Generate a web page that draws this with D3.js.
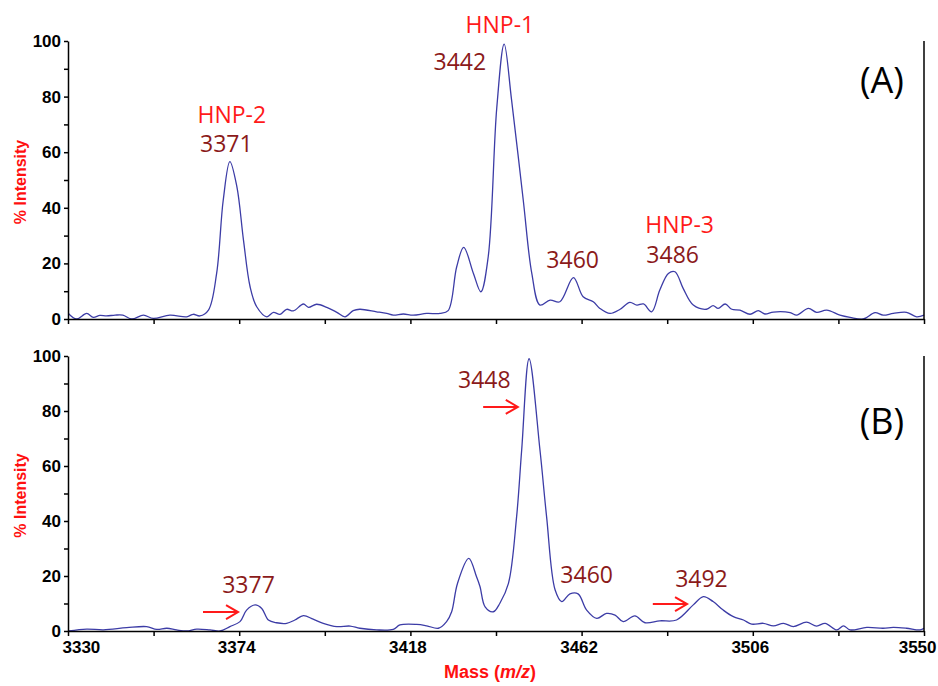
<!DOCTYPE html>
<html>
<head>
<meta charset="utf-8">
<script src="https://cdn.jsdelivr.net/npm/d3@7/dist/d3.min.js"></script>
<style>
body { margin: 0; background: #fff; }
svg text { font-family: "Liberation Sans", Arial, sans-serif; }
.axis .tick text { font-weight: bold; font-size: 17px; fill: #000; }
.axis path, .axis line { stroke: #000; stroke-width: 1.5; }
.peak-label { font-family: "Open Sans", sans-serif !important; font-size: 23px; }
</style>
</head>
<body>
<div id="chart"></div>
<script>
(function() {
"use strict";

var massA = [3330.1, 3332.2, 3334.8, 3336.5, 3338.2, 3339.9, 3342.1, 3344.1, 3346.4, 3349.4,
    3351.9, 3356.2, 3360.5, 3362.2, 3363.9, 3366.1, 3368.2, 3369.9, 3371.6, 3373.4,
    3375.1, 3376.8, 3378.5, 3381.1, 3382.8, 3384.5, 3386.2, 3387.9, 3390.5, 3391.8,
    3393.9, 3396.5, 3399.1, 3401.2, 3403.3, 3405.0, 3409.3, 3411.9, 3413.6, 3416.2,
    3418.7, 3422.2, 3425.6, 3427.7, 3429.9, 3431.7, 3434.2, 3436.1, 3438.0, 3440.2,
    3442.1, 3444.0, 3447.0, 3449.2, 3451.3, 3453.9, 3456.4, 3459.9, 3462.4, 3465.0,
    3466.7, 3469.3, 3471.9, 3474.4, 3476.2, 3477.9, 3480.0, 3482.1, 3484.3, 3486.0,
    3488.1, 3490.7, 3494.1, 3495.8, 3497.1, 3498.9, 3500.6, 3502.7, 3505.3, 3507.4,
    3509.1, 3511.3, 3515.6, 3517.3, 3520.3, 3522.4, 3525.0, 3528.4, 3531.0, 3534.4,
    3537.4, 3539.5, 3542.1, 3545.5, 3548.1, 3550.0];
var intensityA = [2.0, 0.0, 2.0, 0.6, 1.3, 1.1, 1.4, 1.4, 0.0, 1.4,
    0.2, 1.4, 0.8, 1.7, 1.1, 3.2, 16.4, 42.8, 56.6, 47.6,
    28.4, 11.6, 4.4, 0.8, 2.4, 1.7, 3.5, 2.9, 5.4, 4.2,
    5.3, 4.2, 2.4, 0.8, 3.0, 3.5, 2.6, 2.0, 1.4, 1.8,
    1.4, 2.0, 2.0, 3.0, 18.8, 25.8, 16.4, 9.8, 22.4, 76.0,
    98.9, 78.8, 42.8, 16.4, 5.0, 6.8, 6.2, 14.9, 8.0, 6.2,
    3.8, 2.0, 3.5, 6.0, 5.0, 5.4, 2.6, 10.4, 16.4, 17.0,
    11.0, 5.0, 3.5, 4.8, 3.8, 5.4, 3.5, 3.2, 1.7, 3.0,
    1.8, 2.5, 2.3, 1.4, 3.8, 2.4, 3.2, 1.4, 0.6, 0.0,
    2.3, 1.4, 2.0, 2.4, 0.8, 1.4];

var massB = [3330.1, 3334.8, 3339.1, 3345.1, 3350.2, 3352.8, 3355.4, 3357.9, 3360.5, 3363.1,
    3366.5, 3369.1, 3371.6, 3374.2, 3375.9, 3378.1, 3379.8, 3381.5, 3383.6, 3386.2,
    3388.3, 3390.5, 3393.0, 3395.6, 3399.1, 3402.5, 3405.0, 3409.3, 3413.6, 3415.3,
    3419.6, 3422.2, 3425.2, 3427.3, 3428.6, 3430.1, 3433.0, 3435.0, 3435.9, 3437.2,
    3439.3, 3441.0, 3443.2, 3445.3, 3446.6, 3448.5, 3451.3, 3453.0, 3455.2, 3456.9,
    3459.0, 3461.1, 3463.3, 3465.9, 3468.4, 3470.6, 3472.7, 3475.7, 3478.3, 3482.1,
    3486.4, 3490.7, 3493.3, 3495.8, 3498.4, 3501.0, 3503.6, 3505.7, 3508.7, 3511.3,
    3513.9, 3516.4, 3519.8, 3522.4, 3524.6, 3527.6, 3529.3, 3531.0, 3535.3, 3539.5,
    3542.1, 3545.5, 3549.0, 3550.0];
var intensityB = [0.0, 0.7, 0.4, 1.2, 1.6, 0.6, 1.0, 0.4, 0.0, 0.7,
    0.4, 0.0, 1.6, 3.4, 7.6, 9.5, 8.2, 4.0, 3.0, 2.8,
    4.0, 5.6, 4.3, 2.8, 1.6, 1.8, 1.0, 0.4, 0.6, 2.2,
    2.4, 1.9, 1.0, 3.4, 7.0, 17.3, 26.4, 19.7, 16.1, 8.8,
    7.0, 10.1, 17.3, 41.6, 65.8, 99.0, 65.8, 41.6, 14.9, 10.7,
    13.5, 13.5, 7.6, 4.6, 6.4, 5.8, 3.4, 5.5, 3.0, 3.7,
    4.0, 9.5, 12.5, 10.7, 7.6, 5.2, 4.0, 2.5, 2.8, 1.9,
    2.8, 1.6, 3.2, 1.8, 2.8, 0.4, 1.9, 0.4, 1.3, 1.0,
    1.3, 1.0, 0.4, 1.0];

var xTicks = [3330, 3374, 3418, 3462, 3506, 3550];
var yTicks = [0, 20, 40, 60, 80, 100];

// label anchors, in data units (mass, % intensity)
var labelText = [["HNP-2", "3371", "HNP-1", "3442", "3460", "HNP-3", "3486"],
                 ["3448", "3377", "3460", "3492"]];
var labelMass = [[3372.1, 3370.7, 3441.0, 3430.7, 3459.7, 3487.2, 3485.4],
                 [3437.0, 3376.4, 3463.3, 3492.8]];
var labelValue = [[70.5, 60.1, 102.9, 89.6, 18.3, 30.9, 20.1],
                  [88.4, 13.8, 17.5, 16.0]];
var arrowFrom = [3364.7, 3436.7, 3480.3];
var arrowTo = [3373.7, 3445.6, 3489.1];
var arrowValue = [6.9, 81.5, 9.8];
var panelNames = ["(A)", "(B)"];

var width = 938, height = 686;
var left = 68, right = 924;
var panels = [{top: 41, bottom: 319}, {top: 356, bottom: 631}];

var svg = d3.select("#chart").append("svg")
    .attr("width", width)
    .attr("height", height);

var x = d3.scaleLinear().domain([3330, 3550]).range([left, right]);

var series = [
    {mass: massA, value: intensityA},
    {mass: massB, value: intensityB}
];

panels.forEach(function(p, i) {
    var y = d3.scaleLinear().domain([0, 100]).range([p.bottom, p.top]);
    var g = svg.append("g");

    var pts = d3.zip(series[i].mass, series[i].value);
    g.append("path")
        .datum(pts)
        .attr("fill", "none")
        .attr("stroke", "#3c3ca6")
        .attr("stroke-width", 1.3)
        .attr("d", d3.line()
            .x(function(d) { return x(d[0]); })
            .y(function(d) { return y(d[1]); })
            .curve(d3.curveCatmullRom.alpha(0.5)));

    var xAxis = d3.axisBottom(x)
        .tickValues(d3.range(3330, 3551, 22))
        .tickSize(5)
        .tickSizeOuter(0)
        .tickPadding(5)
        .tickFormat(function(d) {
            return (i === 1 && xTicks.indexOf(d) >= 0) ? d : "";
        });
    var xg = g.append("g")
        .attr("class", "axis")
        .attr("transform", "translate(0," + p.bottom + ")")
        .call(xAxis);
    // nudge the labels like the original: first one inward, last one inward
    xg.selectAll(".tick text")
        .attr("text-anchor", function(d) {
            return d === 3330 ? "start" : d === 3550 ? "end" : "middle";
        })
        .attr("dx", function(d) {
            return d === 3330 ? -6 : d === 3550 ? 12 : -3;
        });

    var yAxis = d3.axisLeft(y)
        .tickValues(d3.range(0, 101, 10))
        .tickSize(4)
        .tickSizeOuter(0)
        .tickFormat(function(d) { return yTicks.indexOf(d) >= 0 ? d : ""; });
    g.append("g")
        .attr("class", "axis")
        .attr("transform", "translate(" + left + ",0)")
        .call(yAxis);

    g.append("line")
        .attr("x1", right).attr("x2", right)
        .attr("y1", p.top).attr("y2", p.bottom)
        .attr("stroke", "#000")
        .attr("stroke-width", 1.5);

    g.append("text")
        .attr("transform", "translate(26," + ((p.top + p.bottom) / 2 + 2) + ") rotate(-90)")
        .attr("text-anchor", "middle")
        .attr("fill", "#ff1010")
        .attr("font-weight", "bold")
        .attr("font-size", "16px")
        .text("% Intensity");

    labelText[i].forEach(function(t, k) {
        g.append("text")
            .attr("class", "peak-label")
            .attr("x", x(labelMass[i][k]))
            .attr("y", y(labelValue[i][k]))
            .attr("text-anchor", "middle")
            .attr("fill", t.indexOf("HNP") === 0 ? "#ff1a1a" : "#8b1a1a")
            .text(t);
    });

    g.append("text")
        .attr("class", "peak-label")
        .attr("x", x(3539.2))
        .attr("y", y(i === 0 ? 81.3 : 71.5))
        .attr("text-anchor", "middle")
        .attr("fill", "#000")
        .style("font-size", "36px")
        .text(panelNames[i]);

    if (i === 1) {
        arrowFrom.forEach(function(a, k) {
            var x0 = x(a), x1 = x(arrowTo[k]), yy = y(arrowValue[k]);
            g.append("path")
                .attr("fill", "none")
                .attr("stroke", "#ff1a1a")
                .attr("stroke-width", 2)
                .attr("d", "M" + x0 + "," + yy + "H" + x1 +
                    "M" + (x1 - 12) + "," + (yy - 7) + "L" + x1 + "," + yy +
                    "L" + (x1 - 12) + "," + (yy + 7));
        });
    }
});

var xl = svg.append("text")
    .attr("x", 490)
    .attr("y", 678)
    .attr("text-anchor", "middle")
    .attr("fill", "#ff1010")
    .attr("font-weight", "bold")
    .attr("font-size", "18px");
xl.append("tspan").text("Mass  (");
xl.append("tspan").attr("font-style", "italic").text("m/z");
xl.append("tspan").text(")");

})();
</script>
</body>
</html>
